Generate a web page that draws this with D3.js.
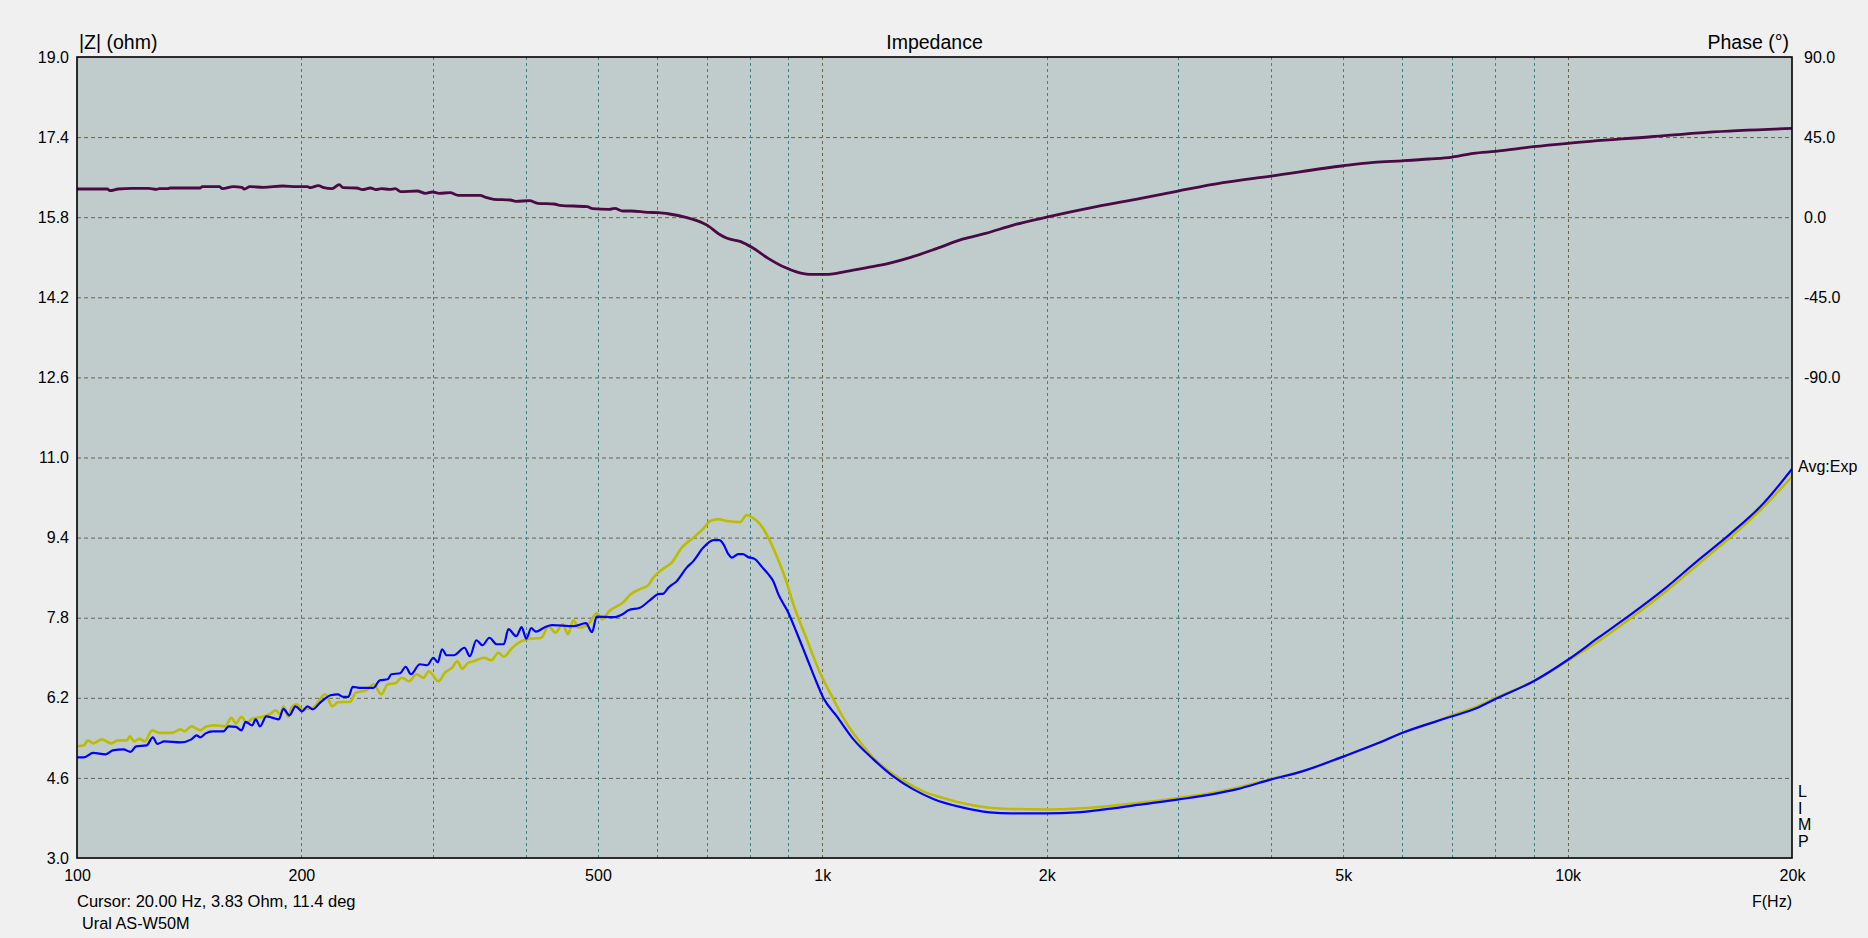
<!DOCTYPE html>
<html><head><meta charset="utf-8">
<script src="https://cdn.jsdelivr.net/npm/d3@7"></script>
<style>
html,body{margin:0;padding:0;background:#f0f0f0;}
svg{display:block;font-family:"Liberation Sans",Arial,sans-serif;}
</style></head><body>
<svg id="chart" width="1868" height="938"></svg>
<script>
// ---- data ----
const xTickValues = [100, 200, 500, 1000, 2000, 5000, 10000, 20000];
const xTickLabels = ["100", "200", "500", "1k", "2k", "5k", "10k", "20k"];
const xGridMajor = [1000, 10000];
const xGridMinor = [200, 300, 400, 500, 600, 700, 800, 900, 2000, 3000, 4000, 5000, 6000, 7000, 8000, 9000];
const zTicks = [3.0, 4.6, 6.2, 7.8, 9.4, 11.0, 12.6, 14.2, 15.8, 17.4, 19.0];
const phaseTicks = [90, 45, 0, -45, -90];

// |Z| yellow trace [Hz, ohm]
const yellowZ = [
[100,5.23],[102.2,5.25],[103.4,5.35],[105.1,5.29],[108,5.37],[111.1,5.29],[113.5,5.35],[116.7,5.35],[117.7,5.43],[119.3,5.33],[121.3,5.38],[123.3,5.33],[126.1,5.55],[128.9,5.5],[134,5.5],[137.7,5.57],[139.3,5.53],[142.4,5.63],[146.4,5.55],[148.8,5.62],[152.9,5.65],[158,5.63],[161.1,5.8],[163.4,5.69],[166.2,5.82],[168.9,5.7],[171.8,5.78],[178.5,5.83],[182.5,5.9],[184.5,5.95],[187.6,5.87],[189.2,6.03],[192.2,5.82],[193.9,6.0],[197.1,6.07],[200.4,5.97],[207.2,6.0],[215.3,6.27],[220.1,6.03],[223.8,6.11],[232.6,6.12],[236.5,6.3],[244.5,6.35],[249.9,6.47],[256.1,6.27],[261.2,6.47],[267.1,6.49],[272.9,6.6],[279,6.53],[285.3,6.67],[291.6,6.6],[296.5,6.73],[305.5,6.53],[311.6,6.7],[318.5,6.8],[323.9,6.93],[328.6,6.78],[334.8,6.9],[340.3,6.93],[351.8,7.0],[359.6,6.95],[367.6,7.1],[373.8,7.02],[382.1,7.17],[388.5,7.27],[401.6,7.37],[419.7,7.4],[429.1,7.63],[438.6,7.5],[448.4,7.67],[455.9,7.47],[463.5,7.75],[471.2,7.6],[487.1,7.7],[498,7.89],[506.3,7.77],[517.6,7.93],[541,8.11],[553.1,8.27],[569.3,8.37],[584.2,8.45],[593.3,8.6],[611.9,8.78],[628,8.9],[647.7,9.2],[671.4,9.4],[692.4,9.58],[706.9,9.73],[725.3,9.77],[744.3,9.73],[775.5,9.71],[791.7,9.85],[808,9.79],[824.9,9.67],[846.3,9.4],[868.5,9.03],[895.9,8.5],[914.3,8.07],[953,7.37],[992.9,6.7],[1035,6.17],[1067,5.8],[1112,5.4],[1171,5.0],[1245,4.67],[1311,4.47],[1381,4.3],[1453,4.2],[1539,4.1],[1648,4.02],[1793,3.98],[1998,3.97],[2197,3.99],[2392,4.03],[2648,4.1],[3007,4.2],[3357,4.31],[3593,4.4],[4004,4.58],[4402,4.73],[5007,5.02],[5582,5.3],[6003,5.5],[6613,5.71],[7003,5.85],[7572,6.03],[8009,6.2],[9001,6.53],[10031,6.95],[10994,7.33],[12172,7.8],[13474,8.3],[14918,8.85],[16512,9.4],[18277,10.0],[20000,10.62]
];

// |Z| blue trace [Hz, ohm]
const blueZ = [
[100,5.01],[102.2,5.01],[105.1,5.1],[109.2,5.07],[111.7,5.15],[115.4,5.17],[118,5.12],[120,5.23],[124,5.25],[126.4,5.41],[128.2,5.28],[131,5.33],[137.7,5.31],[142.4,5.37],[144.7,5.45],[146.4,5.41],[148.8,5.49],[152.1,5.53],[157.2,5.53],[159.8,5.63],[163.4,5.62],[166.2,5.55],[168.4,5.72],[171.8,5.65],[173.7,5.77],[176,5.63],[179.5,5.83],[183.1,5.8],[186.6,5.77],[189.2,5.98],[192.8,5.85],[196.4,6.03],[200.4,5.93],[203.8,6.03],[207.2,5.97],[211.8,6.1],[218.9,6.25],[223.8,6.27],[227.5,6.22],[231.3,6.22],[234.4,6.42],[239.1,6.4],[249.9,6.4],[254.9,6.55],[261.2,6.57],[264.1,6.67],[271.4,6.69],[276,6.82],[280.6,6.67],[288.4,6.87],[294.9,6.85],[300.8,7.0],[304.8,6.91],[308.9,7.17],[313.3,7.05],[320.3,7.05],[331.1,7.2],[336.6,7.03],[343.4,7.35],[349.9,7.25],[357.6,7.4],[365.6,7.27],[373.8,7.27],[379.2,7.57],[388.5,7.43],[395,7.61],[400.7,7.38],[406.9,7.59],[412.8,7.52],[424.4,7.61],[433.8,7.65],[463.5,7.63],[481.8,7.69],[490.9,7.51],[498,7.82],[523.4,7.81],[541,7.88],[549.3,7.95],[569.3,8.0],[587.3,8.15],[602.6,8.27],[611.9,8.28],[621.4,8.4],[637.7,8.53],[657.7,8.8],[671.4,8.93],[692.4,9.2],[714.2,9.35],[727.5,9.35],[736.6,9.27],[748,9.07],[755.9,9.0],[771.4,9.07],[782,9.07],[795.6,9.01],[812.2,8.97],[829.2,8.82],[846.3,8.67],[859.4,8.53],[872.8,8.27],[900.3,7.9],[924,7.5],[953,7.0],[982.9,6.5],[1003,6.2],[1046,5.83],[1101,5.37],[1171,4.97],[1245,4.63],[1325,4.37],[1409,4.18],[1530,4.02],[1676,3.91],[1793,3.89],[1998,3.89],[2197,3.91],[2392,3.97],[2648,4.06],[3007,4.17],[3357,4.28],[3593,4.37],[4004,4.57],[4402,4.73],[5007,5.03],[5582,5.3],[6003,5.5],[7003,5.83],[7572,6.0],[8009,6.18],[9001,6.53],[10031,6.97],[10994,7.4],[12172,7.87],[13474,8.37],[14918,8.93],[16512,9.47],[18277,10.07],[20000,10.77]
];

// Phase trace [Hz, degrees]
const phaseDeg = [
[100,15.84],[109.8,15.84],[110.7,14.9],[113.6,15.84],[118.5,16.22],[124.7,16.22],[127.9,15.65],[128.9,16.03],[132.3,16.03],[133.4,16.41],[146.4,16.41],[147.2,17.15],[155.3,17.15],[156.7,16.03],[162.1,17.15],[166.3,16.78],[167.7,15.84],[170.6,17.15],[177.9,16.78],[188.8,17.53],[197,17.15],[203.8,17.15],[205.6,16.59],[210.8,17.72],[214.4,16.59],[219.9,16.03],[224.8,18.28],[227.5,16.59],[237.3,16.41],[241.4,15.47],[247.6,16.41],[251.8,15.47],[256.1,16.03],[262.7,15.65],[267.3,16.03],[271.8,14.34],[286,14.72],[293.4,13.41],[299.9,14.16],[306.1,13.41],[316.6,13.78],[324.8,12.29],[347.5,12.29],[353.4,11.16],[362.5,10.04],[381.4,9.66],[387.9,8.91],[404.7,9.29],[415.1,7.79],[436.8,7.42],[444.3,6.67],[483.7,5.92],[491.9,4.79],[517.6,4.42],[526.4,4.98],[540,3.48],[553.9,3.48],[582.7,2.73],[602.8,2.55],[623.6,1.8],[656.1,-0.08],[678.7,-1.95],[702.1,-4.76],[726.4,-9.44],[745.1,-11.87],[777.3,-13.75],[804.1,-16.93],[846,-23.11],[890.2,-28.17],[920.9,-30.6],[960.6,-32.1],[1019,-32.1],[1073,-30.6],[1148,-28.35],[1228,-25.92],[1314,-22.55],[1426,-17.49],[1546,-12.2],[1656,-9.1],[1804,-4.4],[2000,0],[2332,5.9],[2675,10.6],[3000,14.7],[3449,19.4],[4000,23.1],[5000,28.9],[5494,30.8],[6000,31.7],[6522,32.7],[7000,33.8],[7475,35.9],[8000,37.0],[9000,39.6],[10000,41.5],[12946,45.2],[15366,47.7],[20000,49.9]
];

// ---- layout ----
const svg = d3.select("#chart");
const L = 77, R = 1792, T = 57, B = 858;
const x = d3.scaleLog().domain([100, 20000]).range([L, R]);
const yZ = d3.scaleLinear().domain([3, 19]).range([B, T]);
const yP = d3.scaleLinear().domain([-360, 90]).range([B, T]);

svg.append("rect").attr("width", 1868).attr("height", 938).attr("fill", "#f0f0f0");
svg.append("rect").attr("x", L).attr("y", T).attr("width", R - L).attr("height", B - T).attr("fill", "#c0cccc");

const grid = svg.append("g");
grid.selectAll(".hg").data(zTicks.slice(1, -1)).enter().append("line")
  .attr("x1", L).attr("x2", R).attr("y1", d => yZ(d) + 0.5).attr("y2", d => yZ(d) + 0.5)
  .attr("stroke", "#67654c").attr("stroke-width", 1).attr("stroke-dasharray", "4,3");
grid.selectAll(".vmin").data(xGridMinor).enter().append("line")
  .attr("x1", d => Math.round(x(d)) + 0.5).attr("x2", d => Math.round(x(d)) + 0.5).attr("y1", T).attr("y2", B)
  .attr("stroke", "#3f8585").attr("stroke-width", 1).attr("stroke-dasharray", "3,3");
grid.selectAll(".vmaj").data(xGridMajor).enter().append("line")
  .attr("x1", d => Math.round(x(d)) + 0.5).attr("x2", d => Math.round(x(d)) + 0.5).attr("y1", T).attr("y2", B)
  .attr("stroke", "#67654c").attr("stroke-width", 1).attr("stroke-dasharray", "3,3");

svg.append("clipPath").attr("id", "pc").append("rect")
  .attr("x", L).attr("y", T).attr("width", R - L).attr("height", B - T);
const plot = svg.append("g").attr("clip-path", "url(#pc)");

const lineZ = d3.line().x(d => x(d[0])).y(d => yZ(d[1])).curve(d3.curveMonotoneX);
const lineP = d3.line().x(d => x(d[0])).y(d => yP(d[1])).curve(d3.curveMonotoneX);

plot.append("path").datum(yellowZ).attr("d", lineZ).attr("fill", "none")
  .attr("stroke", "#bcbc00").attr("stroke-width", 2.6).attr("stroke-linejoin", "round");
plot.append("path").datum(blueZ).attr("d", lineZ).attr("fill", "none")
  .attr("stroke", "#0000ff").attr("stroke-width", 2.2).attr("stroke-linejoin", "round");
plot.append("path").datum(phaseDeg).attr("d", lineP).attr("fill", "none")
  .attr("stroke", "#4a0a44").attr("stroke-width", 2.8).attr("stroke-linejoin", "round");

svg.append("rect").attr("x", L).attr("y", T).attr("width", R - L).attr("height", B - T)
  .attr("fill", "none").attr("stroke", "#000").attr("stroke-width", 1.6);

// ---- axes ----
const fs = 16;
const xAxis = d3.axisBottom(x).tickValues(xTickValues)
  .tickFormat((d, i) => xTickLabels[i]).tickSize(0).tickPadding(12);
const gx = svg.append("g").attr("transform", `translate(0,${B})`).call(xAxis);
const yAxisL = d3.axisLeft(yZ).tickValues(zTicks).tickFormat(d => d.toFixed(1)).tickSize(0).tickPadding(8);
const gl = svg.append("g").attr("transform", `translate(${L},0)`).call(yAxisL);
const yAxisR = d3.axisRight(yP).tickValues(phaseTicks).tickFormat(d => d.toFixed(1)).tickSize(0).tickPadding(12);
const gr = svg.append("g").attr("transform", `translate(${R},0)`).call(yAxisR);
[gx, gl, gr].forEach(g => {
  g.select(".domain").remove();
  g.selectAll("text").attr("font-size", fs).attr("fill", "#000")
    .attr("font-family", '"Liberation Sans", Arial, sans-serif');
});

// ---- text ----
const hs = 19.5;
svg.append("text").attr("x", 79).attr("y", 49).attr("font-size", hs).text("|Z| (ohm)");
svg.append("text").attr("x", (L + R) / 2).attr("y", 49).attr("font-size", hs).attr("text-anchor", "middle").text("Impedance");
svg.append("text").attr("x", 1789).attr("y", 49).attr("font-size", hs).attr("text-anchor", "end").text("Phase (°)");
svg.append("text").attr("x", 1798).attr("y", 472).attr("font-size", fs).text("Avg:Exp");
const limp = ["L", "I", "M", "P"];
svg.selectAll(".limp").data(limp).enter().append("text")
  .attr("x", 1798).attr("y", (d, i) => 797 + i * 16.5).attr("font-size", fs).text(d => d);
svg.append("text").attr("x", 77).attr("y", 907).attr("font-size", 16.5).text("Cursor: 20.00 Hz, 3.83 Ohm, 11.4 deg");
svg.append("text").attr("x", 82).attr("y", 929).attr("font-size", 16.3).text("Ural AS-W50M");
svg.append("text").attr("x", 1792).attr("y", 907).attr("font-size", fs).attr("text-anchor", "end").text("F(Hz)");
</script>
</body></html>
